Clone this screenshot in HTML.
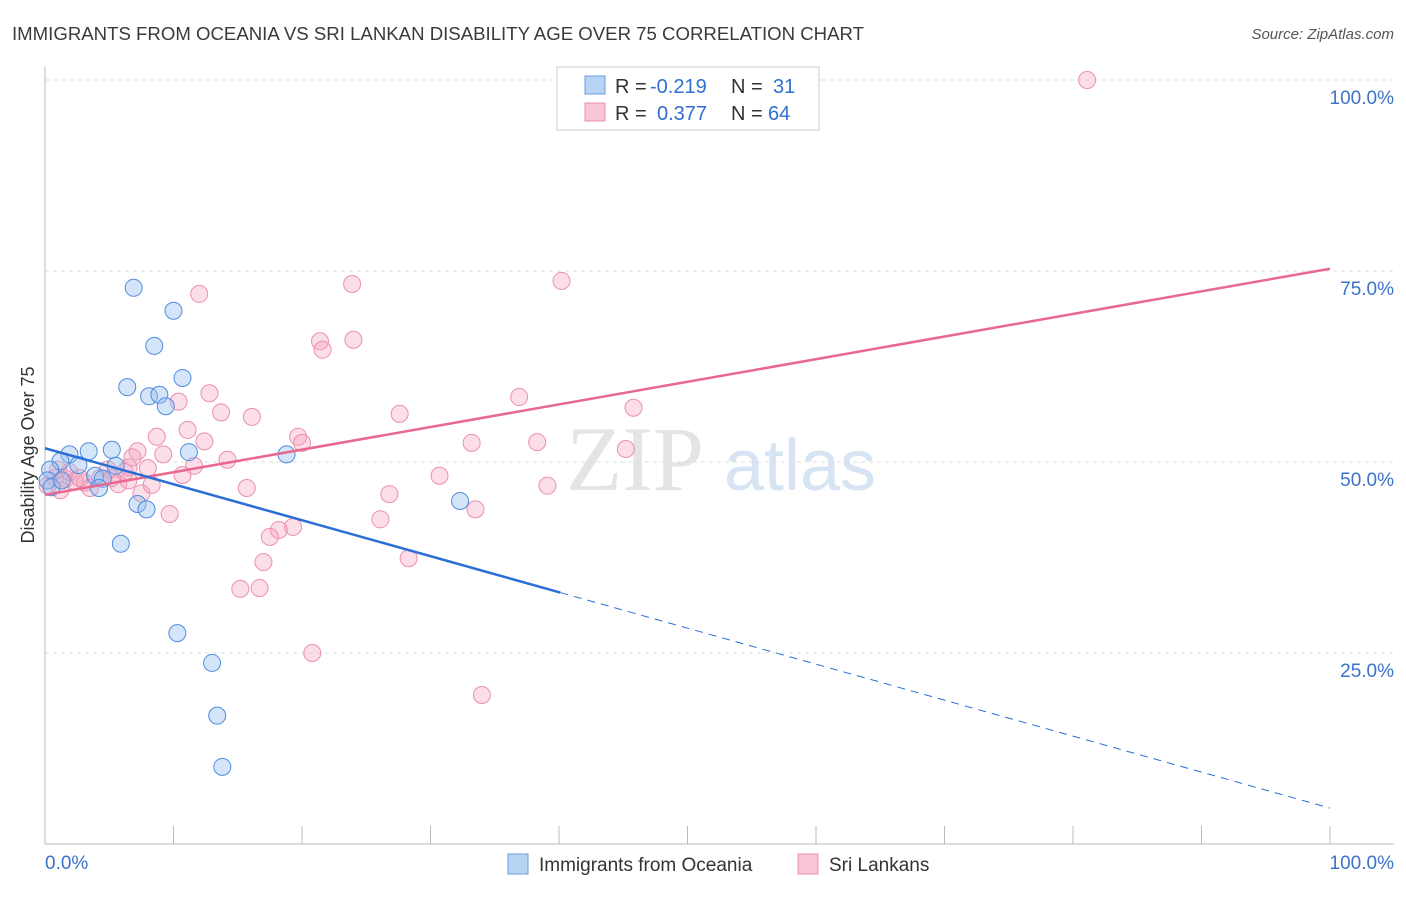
<!DOCTYPE html>
<html><head><meta charset="utf-8"><style>
body{margin:0;background:#fff;font-family:"Liberation Sans",sans-serif}
</style></head><body>
<svg width="1406" height="892" xmlns="http://www.w3.org/2000/svg" font-family="Liberation Sans, sans-serif">
<text x="12" y="40" font-size="18" fill="#3a3a3a" textLength="852" lengthAdjust="spacingAndGlyphs">IMMIGRANTS FROM OCEANIA VS SRI LANKAN DISABILITY AGE OVER 75 CORRELATION CHART</text>
<text x="1394" y="39" font-size="15" fill="#555" text-anchor="end" font-style="italic">Source: ZipAtlas.com</text>
<g>
<text x="635" y="490" font-size="92" fill="#e4e4e4" text-anchor="middle" font-family="Liberation Serif, serif">ZIP</text>
<text x="800" y="490" font-size="72" fill="#d6e4f3" text-anchor="middle">atlas</text>
</g>
<g id="grid"></g>
<g id="axes"></g>
<g id="pts"></g>
<g id="lines"></g>
<text transform="translate(34,455) rotate(-90)" font-size="18" fill="#333" text-anchor="middle">Disability Age Over 75</text>
<text x="45" y="869" font-size="19" fill="#3b73c8">0.0%</text>
<text x="1394" y="869" font-size="19" fill="#3b73c8" text-anchor="end">100.0%</text>
<g>
<rect x="557" y="67" width="262" height="63" fill="#fff" stroke="#ccc"/>
<rect x="585" y="76" width="20" height="18" fill="#b8d4f5" stroke="#6a9de0"/>
<rect x="585" y="103" width="20" height="18" fill="#f9c6d6" stroke="#ec8fae"/>
<text x="615" y="93" font-size="20" fill="#333">R =</text>
<text x="650" y="93" font-size="20" fill="#2f6fd0">-0.219</text>
<text x="731" y="93" font-size="20" fill="#333">N =</text>
<text x="773" y="93" font-size="20" fill="#2f6fd0">31</text>
<text x="615" y="120" font-size="20" fill="#333">R =</text>
<text x="657" y="120" font-size="20" fill="#2f6fd0">0.377</text>
<text x="731" y="120" font-size="20" fill="#333">N =</text>
<text x="768" y="120" font-size="20" fill="#2f6fd0">64</text>
</g>
<g>
<rect x="508" y="854" width="20" height="20" fill="#b8d4f5" stroke="#6a9de0"/>
<text x="539" y="871" font-size="19" fill="#333">Immigrants from Oceania</text>
<rect x="798" y="854" width="20" height="20" fill="#f9c6d6" stroke="#ec8fae"/>
<text x="829" y="871" font-size="19" fill="#333">Sri Lankans</text>
</g>
</svg>
<script>
const blueX=[6.9,10.0,8.5,6.4,10.7,8.1,8.9,9.4,11.2,18.8,5.2,3.4,1.9,1.2,2.6,3.9,4.5,4.2,5.5,7.2,7.9,5.9,10.3,13.0,13.4,13.8,32.3,0.4,0.2,0.5,1.3];
const blueY=[72.8,69.8,65.2,59.8,61.0,58.6,58.8,57.3,51.3,51.0,51.6,51.4,51.0,50.1,49.6,48.2,47.8,46.6,49.5,44.5,43.8,39.3,27.6,23.7,16.8,10.1,44.9,49.0,47.6,46.7,47.6];
const pinkX=[81.1,40.2,23.9,12.0,21.4,24.0,21.6,12.8,10.4,13.7,16.1,27.6,36.9,45.8,11.1,8.7,12.4,19.7,20.0,33.2,38.3,45.2,7.2,9.2,14.2,11.6,8.0,6.5,10.7,30.7,8.3,7.5,15.7,26.8,39.1,33.5,9.7,26.1,19.3,18.2,17.5,17.0,28.3,15.2,16.7,20.8,34.0,0.8,1.6,2.3,3.1,3.5,4.3,4.9,5.7,6.2,0.2,1.0,1.9,2.7,5.2,1.2,6.5,6.8];
const pinkY=[100,73.7,73.3,72.0,65.8,66.0,64.7,59.0,57.9,56.5,55.9,56.3,58.5,57.1,54.2,53.3,52.7,53.3,52.5,52.5,52.6,51.7,51.4,51.0,50.3,49.5,49.2,49.3,48.3,48.2,47.0,45.9,46.6,45.8,46.9,43.8,43.2,42.5,41.5,41.1,40.2,36.9,37.4,33.4,33.5,25.0,19.5,47.9,47.8,47.5,47.3,46.6,47.9,49.0,47.1,48.7,46.9,49.0,48.7,47.9,47.9,46.3,47.6,50.6];
const blueTrend=[51.8,4.7];
const blueSolidEnd=40.1;
const pinkTrend=[45.7,75.3];
const yTicks=[25,50,75,100];
const yTickLabels=["25.0%","50.0%","75.0%","100.0%"];
const xTicks=[0,10,20,30,40,50,60,70,80,90,100];
const NS="http://www.w3.org/2000/svg";
const sx=v=>45+v*12.85, sy=v=>844-v*7.64;
function mk(p,t,a){const e=document.createElementNS(NS,t);for(const k in a)e.setAttribute(k,a[k]);p.appendChild(e);return e;}
const grid=document.getElementById('grid'),axes=document.getElementById('axes'),pts=document.getElementById('pts'),lines=document.getElementById('lines');
yTicks.forEach((t,i)=>{
 const l=mk(grid,'line',{x1:45,x2:1394,y1:sy(t),y2:sy(t),stroke:'#ddd','stroke-dasharray':'4,4'});
 
 
 const tx=mk(grid,'text',{x:1394,y:sy(t)+24,'font-size':19,fill:'#3b73c8','text-anchor':'end'});
 tx.textContent=yTickLabels[i];
 
 
});
const ya=mk(axes,'line',{x1:45,x2:45,y1:67,y2:844,stroke:'#bbb'});


const xa=mk(axes,'line',{x1:45,x2:1394,y1:844,y2:844,stroke:'#bbb'});


xTicks.forEach(t=>{
 const l=mk(axes,'line',{x1:sx(t),x2:sx(t),y1:826,y2:844,stroke:'#bbb'});
 
 
});
pinkX.forEach((x,i)=>{
 const c=mk(pts,'circle',{cx:sx(x),cy:sy(pinkY[i]),r:8.5,fill:'rgba(244,160,190,0.35)',stroke:'#ec8fae','stroke-width':1});
 
 
});
blueX.forEach((x,i)=>{
 const c=mk(pts,'circle',{cx:sx(x),cy:sy(blueY[i]),r:8.5,fill:'rgba(150,190,240,0.4)',stroke:'#4f8ddf','stroke-width':1});
 
 
});
const bAt=x=>blueTrend[0]+(blueTrend[1]-blueTrend[0])*x/100;
const pAt=x=>pinkTrend[0]+(pinkTrend[1]-pinkTrend[0])*x/100;
const pl=mk(lines,'line',{x1:sx(0),y1:sy(pAt(0)),x2:sx(100),y2:sy(pAt(100)),stroke:'#e8688f','stroke-width':2.5});


const bl=mk(lines,'line',{x1:sx(0),y1:sy(bAt(0)),x2:sx(blueSolidEnd),y2:sy(bAt(blueSolidEnd)),stroke:'#2a6fd6','stroke-width':2.5});


const bd=mk(lines,'line',{x1:sx(blueSolidEnd),y1:sy(bAt(blueSolidEnd)),x2:sx(100),y2:sy(bAt(100)),stroke:'#2a6fd6','stroke-width':1,'stroke-dasharray':'8,6'});


</script>
</body></html>
